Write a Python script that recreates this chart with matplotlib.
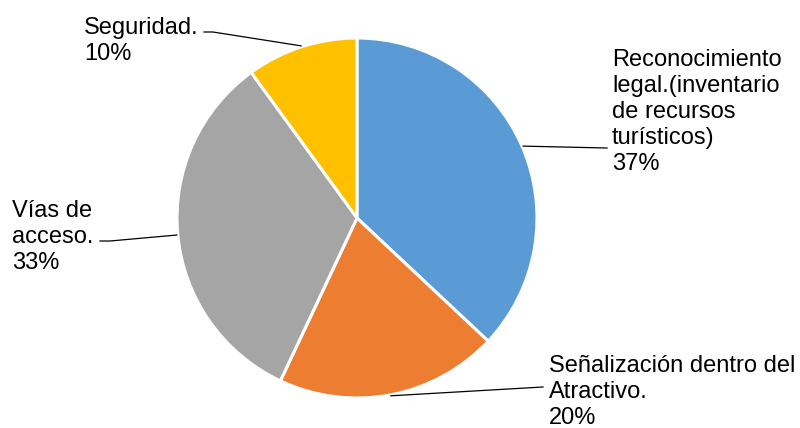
import numpy as np
import matplotlib.pyplot as plt

plt.rcParams['font.family'] = ['Liberation Sans', 'DejaVu Sans']

# datos
categorias = ['Reconocimiento\nlegal.(inventario\nde recursos\nturísticos)',
              'Señalización dentro del\nAtractivo.',
              'Vías de\nacceso.',
              'Seguridad.']
valores = [37, 20, 33, 10]
colores = ['#5B9BD5', '#ED7D31', '#A5A5A5', '#FFC000']

W, H = 800, 428
cx, cy, r = 357, H - 218, 180

fig = plt.figure(figsize=(8, 4.28), dpi=100)
ax = fig.add_axes([0, 0, 1, 1])

ax.pie(valores, colors=colores, startangle=90, counterclock=False,
       center=(cx, cy), radius=r,
       wedgeprops=dict(edgecolor='white', linewidth=2.2))
ax.set_xlim(0, W)
ax.set_ylim(0, H)
ax.set_aspect('equal')
ax.axis('off')

# posiciones de etiquetas (pixeles, y desde arriba): texto x, baseline de la ultima linea, linea guia
etiquetas = [
    dict(tx=612, ty=170, guia=[(607, 148)]),
    dict(tx=549, ty=424, guia=[(543, 387)]),
    dict(tx=12, ty=269, guia=[(100, 241), (110, 241)]),
    dict(tx=84, ty=60, guia=[(204, 32), (213, 32)]),
]

total = sum(valores)
acum = 0
for nombre, v, et in zip(categorias, valores, etiquetas):
    mid = 90 - 360 * (acum + v / 2) / total
    acum += v
    ex = cx + (r + 1) * np.cos(np.radians(mid))
    ey = cy + (r + 1) * np.sin(np.radians(mid))
    xs = [p[0] for p in et['guia']] + [ex]
    ys = [H - p[1] for p in et['guia']] + [ey]
    ax.plot(xs, ys, color='black', linewidth=0.9)
    ax.text(et['tx'], H - et['ty'], f"{nombre}\n{v}%", fontsize=17,
            ha='left', va='baseline', linespacing=1.23, color='black')

fig.savefig('out.png', dpi=100)
